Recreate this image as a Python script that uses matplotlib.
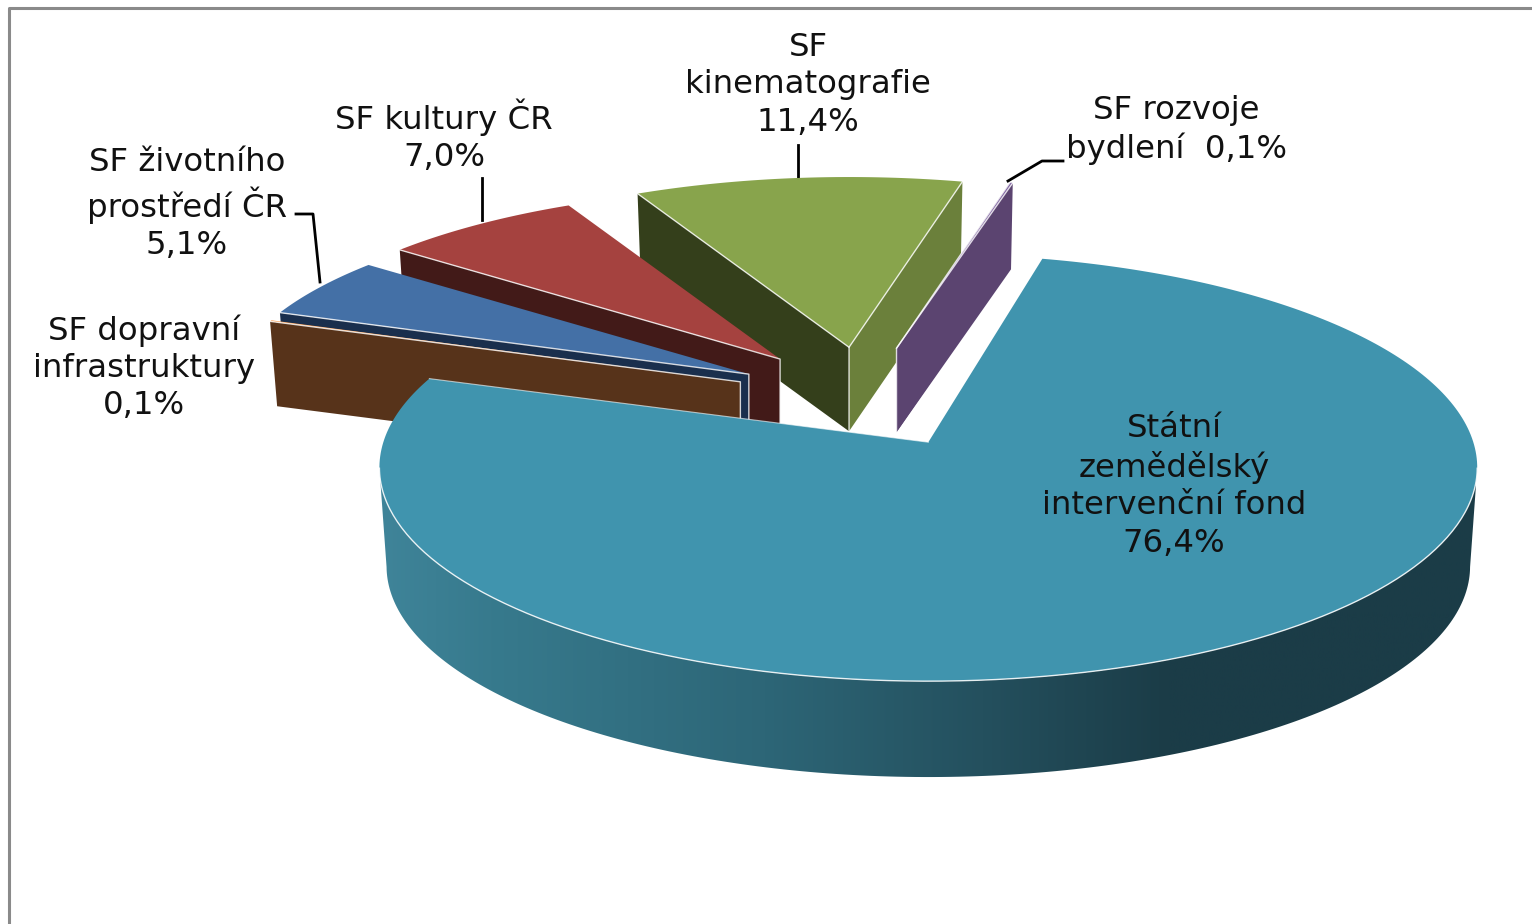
import numpy as np
import matplotlib
matplotlib.use('Agg')
import matplotlib.pyplot as plt
from matplotlib.patches import Polygon
from matplotlib.colors import LinearSegmentedColormap

# podily fondu, po smeru hodin od velke vysece
names = ['Státní\nzemědělský\nintervenční fond', 'SF dopravní\ninfrastruktury',
         'SF životního\nprostředí ČR', 'SF kultury ČR', 'SF\nkinematografie', 'SF rozvoje\nbydlení ']
values = [76.4, 0.1, 5.1, 7.0, 11.4, 0.1]
seps = ['\n', '\n', '\n', '\n', '\n', ' ']

top_colors = ['#4094ae', '#f79646', '#4470a6', '#a5423f', '#88a44c', '#7c5f9e']
start_wall = [None, '#57331a', '#1a2f4d', '#421a18', '#343f1b', '#5b4470']
end_wall = [None, None, None, None, '#6b803b', '#5b4470']

start_angle = 13.5
explode = [0.235, 0.243, 0.243, 0.243, 0.243, 0.243]
center = np.array([866.0, 399.0])
small_dy = -1.0
W, A, P = 545.0, 210.5, 0.119


def rim(theta, apex, rx, ry, s=1.0, d=0.0):
    th = np.radians(theta)
    X, Y = np.sin(th), np.cos(th)
    q = 1 + P * Y
    return np.column_stack([apex[0] + s * rx * W * X / q,
                            apex[1] + d - s * ry * A * Y / q])


fig = plt.figure(figsize=(15.32, 9.24), dpi=100)
ax = fig.add_axes([0, 0, 1, 1])
ax.set_xlim(0, 1532)
ax.set_ylim(924, 0)
ax.axis('off')
plt.rcParams['font.family'] = ['DejaVu Sans']

# ramecek grafu
ax.plot([9, 9, 1532], [924, 8, 8], color='#8a8a8a', lw=2.2, zorder=1)

shares = np.array(values) / np.sum(values) * 360
t0 = start_angle + np.concatenate([[0], np.cumsum(shares)[:-1]])
t1 = t0 + shares
mids = (t0 + t1) / 2

apexes = []
for i, m in enumerate(mids):
    th = np.radians(m)
    a = center + explode[i] * np.array([W * np.sin(th), -A * np.cos(th)])
    if i > 0:
        a[1] += small_dy
    apexes.append(a)

small_rx, small_ry = 0.95, 0.905
small_shift = 1.0
depth = 84
s_bot = 0.985

# odzadu dopredu: zelena, fialova, cervena, modra, hneda
z = 5
for i in [4, 5, 3, 2, 1]:
    apex = apexes[i]
    a0, a1 = t0[i] + small_shift, t1[i] + small_shift
    theta = np.linspace(a0, a1, 40)
    top = rim(theta, apex, small_rx, small_ry)
    a_bot = apex + np.array([0, depth])
    p0 = rim(np.array([a0]), apex, small_rx, small_ry)[0]
    p1 = rim(np.array([a1]), apex, small_rx, small_ry)[0]
    b0 = rim(np.array([a0]), apex, small_rx, small_ry, s_bot, depth)[0]
    b1 = rim(np.array([a1]), apex, small_rx, small_ry, s_bot, depth)[0]
    if end_wall[i]:
        ax.add_patch(Polygon([apex, p1, b1, a_bot], fc=end_wall[i], ec='none', zorder=z))
    ax.add_patch(Polygon([apex, p0, b0, a_bot], fc=start_wall[i], ec='none', zorder=z))
    ax.add_patch(Polygon(np.vstack([[apex], top]), fc=top_colors[i], ec='none', zorder=z + 0.1))
    ax.plot([p0[0], apex[0], a_bot[0]], [p0[1], apex[1], a_bot[1]], color='white', lw=1, alpha=0.8, zorder=z + 0.2)
    if end_wall[i]:
        ax.plot([p1[0], apex[0]], [p1[1], apex[1]], color='white', lw=1, alpha=0.8, zorder=z + 0.2)
    z += 1

# velka vysec: plast s prechodem a horni plocha
apex = apexes[0]
wall_t = np.linspace(97, 263, 200)
wall_top = rim(wall_t, apex, 1.0, 1.0)
wall_bot = rim(wall_t, apex, 1.0, 1.0, 0.987, 99)
wall_poly = Polygon(np.vstack([wall_top, wall_bot[::-1]]), fc='none', ec='none', zorder=20)
ax.add_patch(wall_poly)
cmap = LinearSegmentedColormap.from_list('wall', [(0, '#3f8499'), (0.1, '#377a8d'), (0.35, '#2d6677'),
                                                  (0.55, '#24505e'), (0.72, '#1b3c47'), (1, '#1b3c47')])
im = ax.imshow(np.linspace(0, 1, 512).reshape(1, -1), extent=[380, 1476, 790, 440], aspect='auto',
               cmap=cmap, zorder=20)
im.set_clip_path(wall_poly)
ax.set_xlim(0, 1532)
ax.set_ylim(924, 0)

theta = np.linspace(t0[0], t1[0], 300)
top = rim(theta, apex, 1.0, 1.0)
ax.add_patch(Polygon(np.vstack([[apex], top]), fc=top_colors[0], ec='none', zorder=21))
front = rim(np.linspace(97, 263, 200), apex, 1.0, 1.0)
ax.plot(front[:, 0], front[:, 1], color='white', lw=1, alpha=0.85, zorder=22)
ax.plot([top[-1, 0], apex[0]], [top[-1, 1], apex[1]], color='white', lw=0.8, alpha=0.6, zorder=22)

# popisky
label_xy = [(1174, 486), (144, 368), (187, 204), (444, 136), (808, 85), (1176, 130)]
for n, v, sp, xy in zip(names, values, seps, label_xy):
    txt = n + sp + f'{v:.1f}'.replace('.', ',') + '%'
    ax.text(xy[0], xy[1], txt, ha='center', va='center', fontsize=23.3, color='#111111',
            linespacing=1.26, zorder=30)

leaders = [([296, 313, 320], [214, 214, 282]),
           ([482, 482], [178, 220]),
           ([798, 798], [145, 177]),
           ([1063, 1042, 1008], [161, 161, 181])]
for lx, ly in leaders:
    ax.plot(lx, ly, color='black', lw=2, zorder=4 if lx[0] != 1063 else 30)

fig.savefig('out.png', dpi=100, facecolor='white')
